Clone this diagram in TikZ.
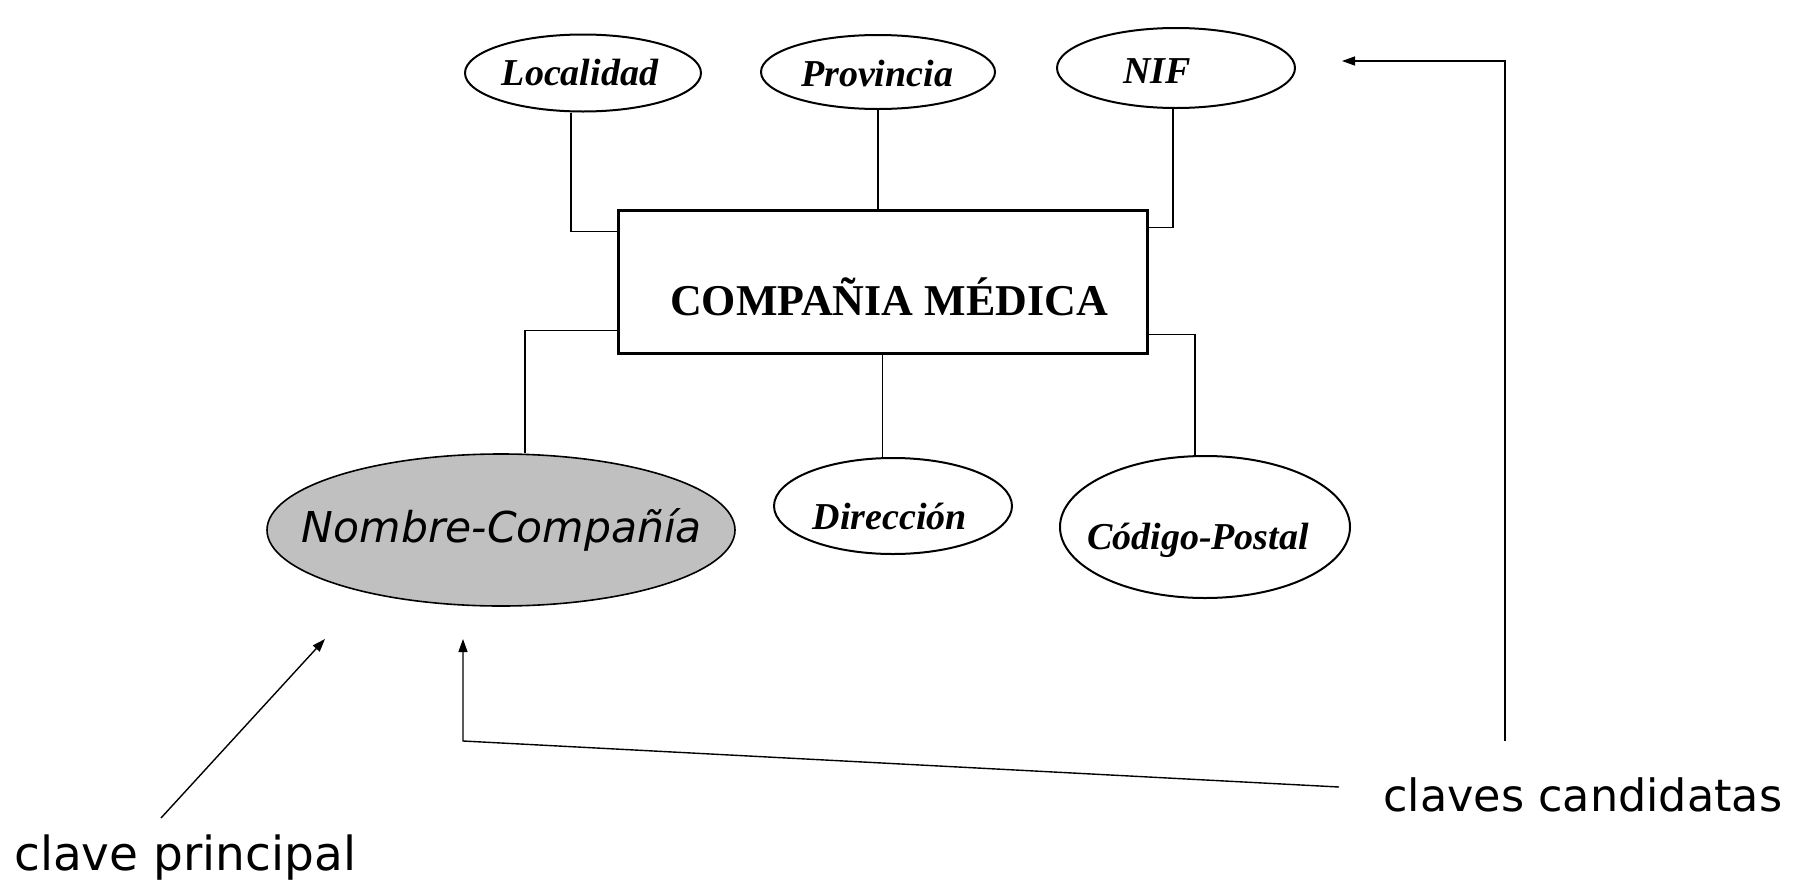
\documentclass[tikz,border=0pt]{standalone}
\usepackage{fontspec}
\usetikzlibrary{shapes.geometric,arrows.meta}
\newfontfamily\erfont{Liberation Serif}
\newfontfamily\dvs{DejaVu Sans}
\definecolor{keygray}{RGB}{192,192,192}
\tikzset{
  attr/.style={ellipse,draw,line width=2pt,inner sep=0pt},
  attrtext/.style={inner sep=0pt,font=\erfont\bfseries\itshape\fontsize{38}{40}\selectfont},
  link/.style={line width=1.8pt},
  notearrow/.style={line width=1.4pt,-{Triangle[length=13pt,width=9pt]}},
  lbl/.style={inner sep=0pt,anchor=base west,font=\dvs\fontsize{47}{50}\selectfont}
}
\begin{document}
\begin{tikzpicture}[x=1pt,y=-1pt]
\useasboundingbox (0,0) rectangle (1802,881);
\fill[white] (0,0) rectangle (1802,881);
% entity
\node[draw,line width=3pt,minimum width=529pt,minimum height=143pt,inner sep=0pt] (box) at (882.5,281.5) {};
\node[inner sep=0pt,anchor=base,font=\erfont\bfseries\fontsize{44}{46}\selectfont] (boxtext) at (889,315) {COMPAÑIA MÉDICA};
% attributes
\node[attr,minimum width=236pt,minimum height=77pt] (loc) at (583,73) {};
\node[attrtext] (loctext) at (580,73) {Localidad};
\node[attr,minimum width=234pt,minimum height=74pt] (prov) at (878,72) {};
\node[attrtext] (provtext) at (877,74) {Provincia};
\node[attr,minimum width=238pt,minimum height=80pt] (nif) at (1176,68) {};
\node[attrtext] (niftext) at (1157,71) {NIF};
\node[ellipse,draw,line width=1.6pt,fill=keygray,minimum width=468pt,minimum height=152pt,inner sep=0pt] (nom) at (501,530) {};
\node[inner sep=0pt,font=\dvs\itshape\fontsize{42.5}{44}\selectfont] (nomtext) at (502,530) {Nombre-Compañía};
\node[attr,minimum width=238pt,minimum height=96pt] (dir) at (893,506) {};
\node[attrtext] (dirtext) at (890,516) {Dirección};
\node[attr,minimum width=290pt,minimum height=142pt] (cp) at (1205,527) {};
\node[attrtext] (cptext) at (1198,540) {Código-Postal};
% attribute links
\draw[link] ([xshift=-12pt]loc.south) |- ([yshift=-23pt]box.north west);
\draw[link] (prov.south) -- (prov.south |- box.north);
\draw[link] ([xshift=-3pt]nif.south) |- ([yshift=-19pt]box.north east);
\draw[link] ([xshift=24pt]nom.north) |- ([yshift=24pt]box.south west);
\draw[link] (box.south) -- (box.south |- dir.north);
\draw[link] ([xshift=-10pt]cp.north) |- ([yshift=20pt]box.south east);
% notes
\node[lbl] (pk) at (14,870) {clave principal};
\node[lbl,font=\dvs\fontsize{44.5}{48}\selectfont] (ck) at (1383,811) {claves candidatas};
\coordinate (pkstart) at (161,818);
\coordinate (pkend) at (325,639);
\draw[notearrow] (pkstart) -- (pkend);
\coordinate (ckstart) at (1339,787);
\coordinate (ckbend) at (463,741);
\coordinate (ckend) at (463,639);
\draw[notearrow] (ckstart) -- (ckbend) -- (ckend);
\coordinate (rstart) at (1505,741);
\coordinate (rbend) at (1505,61);
\coordinate (rend) at (1342,61);
\draw[notearrow] (rstart) -- (rbend) -- (rend);
\end{tikzpicture}
\end{document}
